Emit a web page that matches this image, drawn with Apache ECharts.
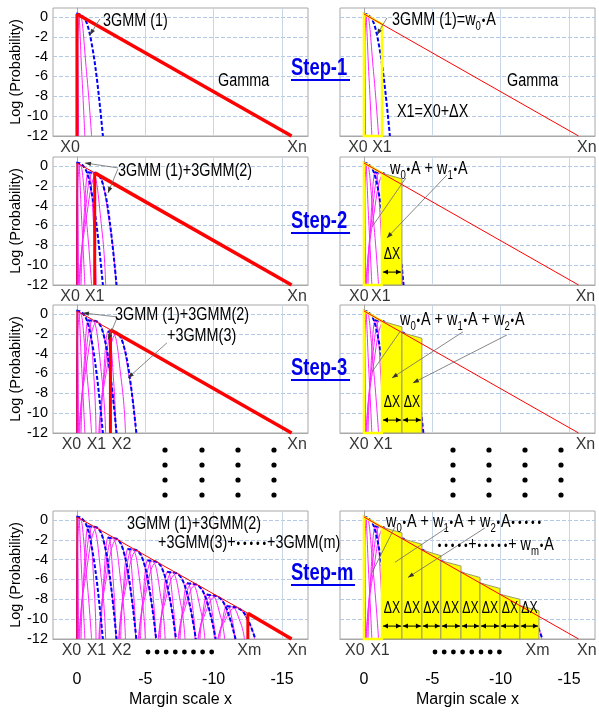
<!DOCTYPE html>
<html>
<head>
<meta charset="utf-8">
<title>3GMM approximation of a Gamma tail</title>
<script src="https://cdn.jsdelivr.net/npm/echarts@6.0.0/dist/echarts.min.js"></script>
<style>
html,body{margin:0;padding:0;background:#ffffff;}
#chart{width:599px;height:713px;}
</style>
</head>
<body>
<div id="chart"></div>
<script>
// ---------- axis ticks ----------
const xTickValues = [0, -5, -10, -15];
const yTickValues = [-12, -10, -8, -6, -4, -2, 0];

// ---------- Gamma tail (straight in log scale) ----------
const gammaLine = [[0, 0.3], [-15.7, -12]];

// ---------- 3GMM groups: three magenta components per group ----------
const gmmComponents = [
  [ [[0.03,-12],[-0.03,0.2],[-0.12,-12]],
    [[0.02,-12],[0.0,-5.5],[-0.12,0.2],[-0.35,-5.5],[-0.58,-12]],
    [[0.0,-12],[-0.02,-5],[-0.25,0.1],[-0.7,-5.5],[-1.07,-12]] ],
  [ [[-0.3,-12],[-0.47,-6.3],[-0.85,-0.55],[-1.24,-6.3],[-1.4,-12]],
    [[-0.2,-12],[-0.49,-6.35],[-1.15,-0.7],[-1.82,-6.35],[-2.1,-12]],
    [[-0.15,-12],[-0.56,-6.4],[-1.5,-0.8],[-2.45,-6.4],[-2.85,-12]] ],
  [ [[-1.75,-12],[-1.92,-6.85],[-2.3,-1.7],[-2.69,-6.85],[-2.85,-12]],
    [[-1.65,-12],[-1.94,-6.93],[-2.6,-1.85],[-3.27,-6.93],[-3.55,-12]],
    [[-1.6,-12],[-2.01,-6.98],[-2.95,-1.95],[-3.9,-6.98],[-4.3,-12]] ],
  [ [[-3.2,-12],[-3.37,-7.43],[-3.75,-2.85],[-4.14,-7.43],[-4.3,-12]],
    [[-3.1,-12],[-3.39,-7.5],[-4.05,-3.0],[-4.72,-7.5],[-5.0,-12]],
    [[-3.05,-12],[-3.46,-7.55],[-4.4,-3.1],[-5.35,-7.55],[-5.75,-12]] ],
  [ [[-4.65,-12],[-4.82,-8.0],[-5.2,-4.0],[-5.59,-8.0],[-5.75,-12]],
    [[-4.55,-12],[-4.84,-8.08],[-5.5,-4.15],[-6.17,-8.08],[-6.45,-12]],
    [[-4.5,-12],[-4.91,-8.13],[-5.85,-4.25],[-6.8,-8.13],[-7.2,-12]] ],
  [ [[-6.1,-12],[-6.27,-8.58],[-6.65,-5.15],[-7.04,-8.58],[-7.2,-12]],
    [[-6.0,-12],[-6.29,-8.65],[-6.95,-5.3],[-7.62,-8.65],[-7.9,-12]],
    [[-5.95,-12],[-6.36,-8.7],[-7.3,-5.4],[-8.25,-8.7],[-8.65,-12]] ],
  [ [[-7.55,-12],[-7.72,-9.15],[-8.1,-6.3],[-8.49,-9.15],[-8.65,-12]],
    [[-7.45,-12],[-7.74,-9.23],[-8.4,-6.45],[-9.07,-9.23],[-9.35,-12]],
    [[-7.4,-12],[-7.81,-9.28],[-8.75,-6.55],[-9.7,-9.28],[-10.1,-12]] ],
  [ [[-9.0,-12],[-9.17,-9.73],[-9.55,-7.45],[-9.94,-9.73],[-10.1,-12]],
    [[-8.9,-12],[-9.19,-9.8],[-9.85,-7.6],[-10.52,-9.8],[-10.8,-12]],
    [[-8.85,-12],[-9.26,-9.85],[-10.2,-7.7],[-11.15,-9.85],[-11.55,-12]] ],
  [ [[-10.45,-12],[-10.62,-10.3],[-11.0,-8.6],[-11.39,-10.3],[-11.55,-12]],
    [[-10.35,-12],[-10.64,-10.38],[-11.3,-8.75],[-11.97,-10.38],[-12.25,-12]],
    [[-10.3,-12],[-10.71,-10.43],[-11.65,-8.85],[-12.6,-10.43],[-13.0,-12]] ]
];

// ---------- 3GMM groups: summed curve (blue dashed) ----------
const gmmSum = [
  [[0.05,0.35],[-0.3,0.2],[-0.7,-0.55],[-1.1,-2.85],[-1.5,-6.7],[-1.9,-12]],
  [[-0.8,-0.65],[-1.45,-0.75],[-1.95,-2.1],[-2.4,-5.6],[-2.9,-12]],
  [[-2.25,-1.8],[-2.9,-1.9],[-3.4,-3.11],[-3.85,-6.24],[-4.35,-12]],
  [[-3.7,-2.95],[-4.35,-3.05],[-4.85,-4.12],[-5.3,-6.9],[-5.8,-12]],
  [[-5.15,-4.1],[-5.8,-4.2],[-6.3,-5.14],[-6.75,-7.55],[-7.25,-12]],
  [[-6.6,-5.25],[-7.25,-5.35],[-7.75,-6.15],[-8.2,-8.21],[-8.7,-12]],
  [[-8.05,-6.4],[-8.7,-6.5],[-9.2,-7.16],[-9.65,-8.87],[-10.15,-12]],
  [[-9.5,-7.55],[-10.15,-7.65],[-10.65,-8.17],[-11.1,-9.52],[-11.6,-12]],
  [[-10.95,-8.7],[-11.6,-8.8],[-12.1,-9.18],[-12.55,-10.18],[-13.05,-12]]
];

// groups drawn at step 1, 2, 3, m
const stepGroupCount = [1, 2, 3, 9];
// truncation point of the Gamma tail on the left panels
const cutX = [0, -1.3, -2.45, -12.5];
const cutY = [0.3, -0.7, -1.6, -9.4];

// ---------- area strips (right panels) ----------
const firstRegion = [[0, -1.32, 0.3, -0.73]];
const stripLeft     = [-1.32, -2.78, -4.24, -5.63, -7.1, -8.49, -9.95, -11.41];
const stripRight    = [-2.78, -4.24, -5.63, -7.1, -8.49, -9.95, -11.41, -12.8];
const stripTopLeft  = [-0.73, -1.88, -3.02, -4.11, -5.26, -6.35, -7.49, -8.63];
const stripTopRight = [-1.3, -2.45, -3.6, -4.65, -5.8, -6.9, -8.0, -9.15];
const stepStripCount = [0, 1, 2, 8];
const deltaTextY = -8.9;
const deltaArrowY = -10.7;

// ---------- point names under each panel ----------
const leftPointLabels = [
  [['X0', 0.5], ['Xn', -16.1]],
  [['X0', 0.5], ['X1', -1.3], ['Xn', -16.1]],
  [['X0', 0.4], ['X1', -1.43], ['X2', -3.26], ['Xn', -16.1]],
  [['X0', 0.4], ['X1', -1.43], ['X2', -3.26], ['Xm', -12.6], ['Xn', -16.1]]
];
const rightPointLabels = [
  [['X0', 0.44], ['X1', -1.32], ['Xn', -16.3]],
  [['X0', 0.37], ['X1', -1.24], ['Xn', -16.2]],
  [['X0', 0.37], ['X1', -1.39], ['Xn', -16.2]],
  [['X0', 0.66], ['X1', -1.17], ['Xm', -12.7], ['Xn', -16.3]]
];

// ---------- leader lines: [x1, y1, x2, y2, arrowhead] per panel ----------
const leaderLines = [
  [[-1.68,-0.2,-0.95,-1.81,1]],
  [[-1.68,-0.1,-0.95,-1.81,1]],
  [[-3.0,-0.2,-0.59,0.3,1],[-3.0,-0.3,-2.27,-2.72,1]],
  [[-3.07,-1.21,-0.59,-6.15,0],[-6.07,-0.91,-1.68,-7.26,1]],
  [[-2.93,-0.3,-0.44,0.1,1],[-2.93,-0.4,-2.27,-2.62,1],[-6.58,-2.92,-3.73,-6.45,1]],
  [[-2.63,-1.81,-0.59,-5.85,0],[-7.24,-1.81,-2.05,-6.45,1],[-10.46,-2.12,-3.58,-6.96,1]],
  [],
  [[-2.27,-0.71,-0.59,-5.29,0],[-6.14,-0.71,-2.27,-4.27,0],[-8.85,-0.81,-3.22,-5.8,1]]
];

// ---------- layout ----------
const FONT = '"Liberation Sans", Arial, sans-serif';
const NARROW = 0.8;    // horizontal squeeze for a narrow face
const ROW_TOP = [8, 157, 305, 511];
const ROW_H = 128;
const LEFT_X = 53, RIGHT_X = 340, PANEL_W = 255;
const X_MIN = -16.9, X_MAX = 1.75, Y_MIN = -12, Y_MAX = 0.9;

const RED = '#ff0000', MAGENTA = '#ff22ff', BLUE = '#0000ff', YELLOW = '#ffff00';

const grids = [], xAxes = [], yAxes = [], series = [];
for (let r = 0; r < 4; r++) {
  for (let s = 0; s < 2; s++) {
    const gi = r * 2 + s;
    const bottom = r === 3;
    grids.push({ left: s ? RIGHT_X : LEFT_X, top: ROW_TOP[r], width: PANEL_W, height: ROW_H,
      show: true, borderColor: '#a8a8a8', borderWidth: 1, backgroundColor: 'transparent' });
    xAxes.push({
      gridIndex: gi, type: 'value', min: X_MIN, max: X_MAX, inverse: true,
      axisLine: { show: true, onZero: false, lineStyle: { color: '#a8a8a8' } },
      axisTick: { show: false, customValues: xTickValues },
      axisLabel: { show: bottom, customValues: xTickValues, margin: 33, color: '#000',
                   fontSize: 16, fontFamily: FONT },
      splitLine: { show: true, lineStyle: { color: '#c9d6e6', width: 1 } },
      name: bottom ? 'Margin scale x' : '', nameLocation: 'middle', nameGap: 53,
      nameTextStyle: { color: '#000', fontSize: 16, fontFamily: FONT }
    });
    yAxes.push({
      gridIndex: gi, type: 'value', min: Y_MIN, max: Y_MAX,
      axisLine: { show: true, lineStyle: { color: '#a8a8a8' } },
      axisTick: { show: false, customValues: yTickValues },
      axisLabel: { show: s === 0, customValues: yTickValues, margin: 5, color: '#000',
                   fontSize: 14.5, fontFamily: FONT },
      splitLine: { show: true, lineStyle: { color: '#b3c9e4', width: 1, type: [4, 2] } },
      name: s === 0 ? 'Log (Probability)' : '', nameLocation: 'middle', nameGap: 26,
      nameTextStyle: { color: '#000', fontSize: 14.5, fontFamily: FONT }
    });
  }
}

function curve(gi, data, color, width, dash, z, smooth) {
  series.push({ type: 'line', xAxisIndex: gi, yAxisIndex: gi, data: data, symbol: 'none',
    smooth: smooth, silent: true, z: z, animation: false,
    lineStyle: { color: color, width: width, type: dash || 'solid', cap: 'butt' } });
}

function polygonRender(fill, stroke, lw) {
  return function (params, api) {
    const x0 = api.value(0), x1 = api.value(1), yl = api.value(2), yr = api.value(3);
    return { type: 'polygon',
      shape: { points: [api.coord([x0, Y_MIN]), api.coord([x0, yl]), api.coord([x1, yr]), api.coord([x1, Y_MIN])] },
      style: { fill: fill, stroke: stroke, lineWidth: lw } };
  };
}

function deltaRender(params, api) {
  const x0 = api.value(0), x1 = api.value(1);
  const a = api.coord([x0, deltaArrowY]), b = api.coord([x1, deltaArrowY]);
  const t = api.coord([(x0 + x1) / 2, deltaTextY]);
  return { type: 'group', children: [
    { type: 'line', shape: { x1: a[0] + 1, y1: a[1], x2: b[0] - 1, y2: b[1] }, style: { stroke: '#000', lineWidth: 1 } },
    { type: 'polygon', shape: { points: [[a[0] + 1, a[1]], [a[0] + 6, a[1] - 2.5], [a[0] + 6, a[1] + 2.5]] }, style: { fill: '#000' } },
    { type: 'polygon', shape: { points: [[b[0] - 1, b[1]], [b[0] - 6, b[1] - 2.5], [b[0] - 6, b[1] + 2.5]] }, style: { fill: '#000' } },
    { type: 'text', x: t[0], y: t[1], scaleX: 0.72, style: { x: 0, y: 0, text: 'ΔX', font: '17px ' + FONT, fill: '#000',
      align: 'center', verticalAlign: 'middle', textAlign: 'center', textVerticalAlign: 'middle' } }
  ] };
}

function leaderRender(params, api) {
  const p1 = api.coord([api.value(0), api.value(1)]);
  const p2 = api.coord([api.value(2), api.value(3)]);
  const children = [{ type: 'line', shape: { x1: p1[0], y1: p1[1], x2: p2[0], y2: p2[1] },
    style: { stroke: '#6a6a6a', lineWidth: 0.8 } }];
  if (api.value(4)) {
    const dx = p2[0] - p1[0], dy = p2[1] - p1[1], len = Math.hypot(dx, dy);
    const ux = dx / len, uy = dy / len, L = 6, W = 2.2;
    children.push({ type: 'polygon', shape: { points: [[p2[0], p2[1]],
      [p2[0] - ux * L - uy * W, p2[1] - uy * L + ux * W],
      [p2[0] - ux * L + uy * W, p2[1] - uy * L - ux * W]] }, style: { fill: '#333' } });
  }
  return { type: 'group', children: children };
}

function pointLabels(gi, labels) {
  series.push({ type: 'scatter', xAxisIndex: gi, yAxisIndex: gi, silent: true, z: 20, animation: false,
    symbolSize: 0, clip: false,
    data: labels.map(function (l) { return [l[1], Y_MIN, l[0]]; }),
    label: { show: true, position: 'inside', offset: [0, 12], color: '#000', fontSize: 16, fontFamily: FONT,
             formatter: function (p) { return p.value[2]; } } });
}

for (let s = 0; s < 4; s++) {
  const gL = s * 2, gR = s * 2 + 1;
  const n = stepGroupCount[s];

  // GMM curves on both panels
  [gL, gR].forEach(function (gi) {
    for (let k = 0; k < n; k++) {
      gmmComponents[k].forEach(function (c) { curve(gi, c, MAGENTA, 1, 'solid', 2, 0.5); });
      curve(gi, gmmSum[k], BLUE, 2, [4, 2], 3, 0.35);
    }
  });

  // left panel: Gamma tail truncated at the current point
  const end = gammaLine[1];
  if (s === 0) {
    curve(gL, [[0, Y_MIN], gammaLine[0]], RED, 3, 'solid', 6, false);
    curve(gL, gammaLine, RED, 3.5, 'solid', 6, false);
  } else {
    curve(gL, [[0, Y_MIN], gammaLine[0]], '#c00000', 1, 'solid', 5, false);
    curve(gL, [gammaLine[0], [cutX[s], cutY[s]]], RED, 1, 'solid', 5, false);
    curve(gL, [[cutX[s], Y_MIN], [cutX[s], cutY[s]]], RED, 3, 'solid', 6, false);
    curve(gL, [[cutX[s], cutY[s]], end], RED, 3.5, 'solid', 6, false);
  }

  // right panel: first area (white, yellow outline), filled strips, Gamma line, ΔX marks
  series.push({ type: 'custom', xAxisIndex: gR, yAxisIndex: gR, silent: true, z: 1, animation: false,
    data: firstRegion, renderItem: polygonRender('#ffffff', null, 0) });
  series.push({ type: 'custom', xAxisIndex: gR, yAxisIndex: gR, silent: true, z: 5, animation: false,
    data: firstRegion, renderItem: polygonRender(null, YELLOW, 2.5) });
  const m = stepStripCount[s];
  if (m > 0) {
    const strips = [], spans = [];
    for (let i = 0; i < m; i++) {
      strips.push([stripLeft[i], stripRight[i], stripTopLeft[i], stripTopRight[i]]);
      spans.push([stripLeft[i], stripRight[i]]);
    }
    series.push({ type: 'custom', xAxisIndex: gR, yAxisIndex: gR, silent: true, z: 4, animation: false,
      data: strips, renderItem: polygonRender(YELLOW, '#9c9c6a', 1) });
    series.push({ type: 'custom', xAxisIndex: gR, yAxisIndex: gR, silent: true, z: 8, animation: false,
      data: spans, renderItem: deltaRender });
  }
  curve(gR, gammaLine, RED, 1, 'solid', 7, false);

  pointLabels(gL, leftPointLabels[s]);
  pointLabels(gR, rightPointLabels[s]);
}

// leader lines from the annotations to the curves
leaderLines.forEach(function (lines, gi) {
  if (!lines.length) return;
  series.push({ type: 'custom', xAxisIndex: gi, yAxisIndex: gi, silent: true, z: 9, animation: false,
    data: lines, renderItem: leaderRender });
});

// ---------- annotation texts ----------
const RICH = {
  n: { fontSize: 18, fontFamily: FONT, fill: '#000', verticalAlign: 'bottom', padding: [0, 0, 4, 0] },
  s: { fontSize: 12, fontFamily: FONT, fill: '#000', verticalAlign: 'bottom', padding: [0, 0, 0, 0] },
  d: { fontSize: 13, fontFamily: FONT, fill: '#000', verticalAlign: 'bottom', padding: [0, 1, 5, 1] },
  dd: { fontSize: 13, fontFamily: FONT, fill: '#000', verticalAlign: 'bottom', padding: [0, 1, 5, 1] }
};
function txt(x, y, text, size, extra) {
  return { type: 'text', z: 100, silent: true, x: x, y: y, scaleX: NARROW,
    style: Object.assign({ x: 0, y: 0, text: text,
    font: size + 'px ' + FONT, fill: '#000', align: 'left', verticalAlign: 'middle',
    textAlign: 'left', textVerticalAlign: 'middle' }, extra || {}) };
}
function rich(x, y, text) { return txt(x, y, text, 18, { rich: RICH }); }

const graphics = [
  txt(103, 21, '3GMM (1)', 18),
  txt(218, 81, 'Gamma', 18),
  rich(392, 22, '{n|3GMM (1)=w}{s|0}{d|•}{n|A}'),
  txt(507, 81, 'Gamma', 18),
  txt(397, 112, 'X1=X0+ΔX', 18),
  txt(118, 171, '3GMM (1)+3GMM(2)', 18),
  rich(390, 171, '{n|w}{s|0}{d|•}{n|A + w}{s|1}{d|•}{n|A}'),
  txt(115, 315, '3GMM (1)+3GMM(2)', 18),
  txt(167, 336, '+3GMM(3)', 18),
  rich(400, 322, '{n|w}{s|0}{d|•}{n|A + w}{s|1}{d|•}{n|A + w}{s|2}{d|•}{n|A}'),
  txt(127, 524, '3GMM (1)+3GMM(2)', 18),
  rich(158, 545, '{n|+3GMM(3)+}{dd|• • • • •}{n|+3GMM(m)}'),
  rich(386, 524, '{n|w}{s|0}{d|•}{n|A + w}{s|1}{d|•}{n|A + w}{s|2}{d|•}{n|A}{dd|• • • • •}'),
  rich(437, 547, '{dd|• • • • •}{n|+}{dd|• • • • •}{n|+ w}{s|m}{d|•}{n|A}')
];

// step titles with underline
const stepTitles = ['Step-1', 'Step-2', 'Step-3', 'Step-m'];
const stepTitleY = [69, 222, 369, 574];
const stepTitleW = [59, 59, 59, 64];
stepTitles.forEach(function (t, i) {
  graphics.push(txt(291, stepTitleY[i], t, 23, { fill: '#0000ee', font: 'bold 23px ' + FONT }));
  graphics.push({ type: 'line', z: 100, silent: true,
    shape: { x1: 291, y1: stepTitleY[i] + 11, x2: 291 + stepTitleW[i], y2: stepTitleY[i] + 11 },
    style: { stroke: '#0000ee', lineWidth: 2 } });
});

// vertical ellipsis between step 3 and step m
[165, 202, 238, 274, 453, 489, 525, 561].forEach(function (cx) {
  [450, 465, 480, 495].forEach(function (cy) {
    graphics.push({ type: 'circle', z: 100, silent: true, shape: { cx: cx, cy: cy, r: 2.6 }, style: { fill: '#000' } });
  });
});
// horizontal ellipsis between X2 / X1 and Xm
for (let i = 0; i < 8; i++) {
  graphics.push({ type: 'circle', z: 100, silent: true, shape: { cx: 148 + i * 9.1, cy: 652, r: 2.4 }, style: { fill: '#000' } });
  graphics.push({ type: 'circle', z: 100, silent: true, shape: { cx: 435 + i * 9.2, cy: 652, r: 2.4 }, style: { fill: '#000' } });
}

const chart = echarts.init(document.getElementById('chart'), null, { renderer: 'canvas' });
chart.setOption({
  animation: false,
  backgroundColor: '#ffffff',
  grid: grids,
  xAxis: xAxes,
  yAxis: yAxes,
  series: series,
  graphic: graphics
});
</script>
</body>
</html>
